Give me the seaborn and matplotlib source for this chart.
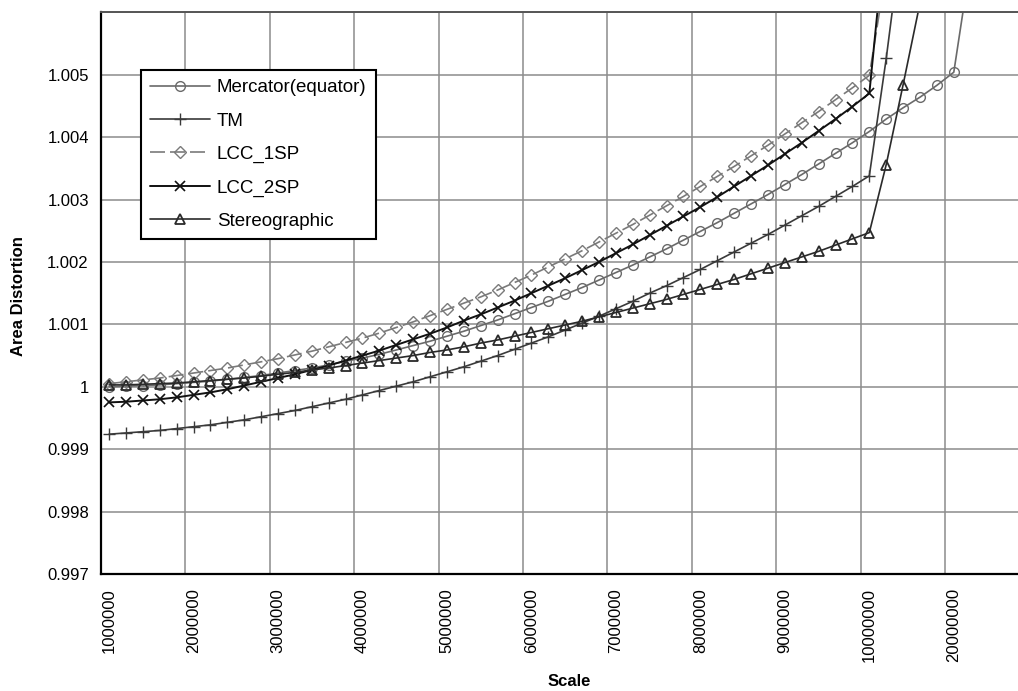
import numpy as np
import pandas as pd
import matplotlib
matplotlib.use("Agg")
import matplotlib.pyplot as plt
import seaborn as sns

nan = np.nan

# Category axis (Excel-style line chart: evenly spaced categories)
scale_values = [1000000, 1200000, 1400000, 1600000, 1800000,
                2000000, 2200000, 2400000, 2600000, 2800000,
                3000000, 3200000, 3400000, 3600000, 3800000,
                4000000, 4200000, 4400000, 4600000, 4800000,
                5000000, 5200000, 5400000, 5600000, 5800000,
                6000000, 6200000, 6400000, 6600000, 6800000,
                7000000, 7200000, 7400000, 7600000, 7800000,
                8000000, 8200000, 8400000, 8600000, 8800000,
                9000000, 9200000, 9400000, 9600000, 9800000,
                10000000, 12000000, 14000000, 16000000, 18000000,
                20000000, 30000000, 40000000, 50000000]

tick_labels = ["1000000", "2000000", "3000000", "4000000", "5000000",
               "6000000", "7000000", "8000000", "9000000", "10000000", "20000000"]

y_ticks = [0.997, 0.998, 0.999, 1.000, 1.001, 1.002, 1.003, 1.004, 1.005, 1.006]
y_tick_labels = ["0.997", "0.998", "0.999", "1", "1.001", "1.002", "1.003",
                 "1.004", "1.005", ""]

mercator = [1.00000, 1.00001, 1.00002, 1.00003, 1.00005, 1.00007, 1.00009, 1.00012, 1.00015, 1.00018,
            1.00022, 1.00026, 1.00030, 1.00035, 1.00041, 1.00046, 1.00052, 1.00059, 1.00066, 1.00073,
            1.00081, 1.00089, 1.00098, 1.00107, 1.00117, 1.00127, 1.00137, 1.00148, 1.00159, 1.00171,
            1.00183, 1.00195, 1.00208, 1.00221, 1.00235, 1.00249, 1.00263, 1.00278, 1.00293, 1.00308,
            1.00324, 1.00340, 1.00357, 1.00374, 1.00391, 1.00409, 1.00429, 1.00447, 1.00464, 1.00483,
            1.00504, 1.00682, nan, nan]

tm = [0.99924, 0.99926, 0.99928, 0.99930, 0.99933, 0.99936, 0.99939, 0.99943, 0.99947, 0.99952,
      0.99957, 0.99962, 0.99968, 0.99974, 0.99980, 0.99987, 0.99994, 1.00001, 1.00008, 1.00016,
      1.00024, 1.00032, 1.00041, 1.00050, 1.00060, 1.00070, 1.00080, 1.00091, 1.00102, 1.00113,
      1.00125, 1.00137, 1.00150, 1.00162, 1.00175, 1.00188, 1.00202, 1.00216, 1.00230, 1.00244,
      1.00259, 1.00274, 1.00289, 1.00305, 1.00321, 1.00338, 1.00526, 1.00737, nan, nan,
      nan, nan, nan, nan]

lcc_1sp = [1.00005, 1.00008, 1.00011, 1.00014, 1.00018, 1.00022, 1.00026, 1.00030, 1.00035, 1.00040,
           1.00045, 1.00051, 1.00057, 1.00064, 1.00071, 1.00078, 1.00086, 1.00095, 1.00104, 1.00114,
           1.00124, 1.00134, 1.00144, 1.00155, 1.00167, 1.00179, 1.00192, 1.00205, 1.00218, 1.00232,
           1.00246, 1.00260, 1.00275, 1.00290, 1.00305, 1.00321, 1.00337, 1.00353, 1.00370, 1.00387,
           1.00405, 1.00423, 1.00441, 1.00460, 1.00479, 1.00499, 1.00668, nan, nan, nan,
           nan, nan, nan, nan]

lcc_2sp = [0.99975, 0.99976, 0.99978, 0.99980, 0.99983, 0.99987, 0.99991, 0.99996, 1.00002, 1.00008,
           1.00014, 1.00020, 1.00027, 1.00034, 1.00042, 1.00050, 1.00058, 1.00067, 1.00076, 1.00085,
           1.00095, 1.00106, 1.00116, 1.00127, 1.00138, 1.00150, 1.00162, 1.00174, 1.00187, 1.00200,
           1.00214, 1.00228, 1.00243, 1.00258, 1.00273, 1.00288, 1.00304, 1.00321, 1.00338, 1.00355,
           1.00373, 1.00391, 1.00410, 1.00429, 1.00449, 1.00470, 1.00743, nan, nan, nan,
           nan, nan, nan, nan]

stereographic = [1.00003, 1.00003, 1.00004, 1.00005, 1.00006, 1.00008, 1.00010, 1.00012, 1.00014, 1.00017,
                 1.00020, 1.00023, 1.00027, 1.00030, 1.00034, 1.00038, 1.00042, 1.00046, 1.00050, 1.00055,
                 1.00059, 1.00064, 1.00070, 1.00075, 1.00081, 1.00087, 1.00093, 1.00099, 1.00105, 1.00112,
                 1.00119, 1.00126, 1.00133, 1.00140, 1.00148, 1.00156, 1.00164, 1.00172, 1.00181, 1.00190,
                 1.00199, 1.00208, 1.00217, 1.00227, 1.00237, 1.00247, 1.00356, 1.00484, 1.00615, nan,
                 nan, nan, nan, nan]

series = [
    ("Mercator(equator)", mercator, "#6a6a6a", dict(marker="o", linestyle="-", lw=1.2, ms=7, mfc="none", mew=1.0)),
    ("TM", tm, "#3a3a3a", dict(marker="+", linestyle="-", lw=1.2, ms=8, mew=1.0)),
    ("LCC_1SP", lcc_1sp, "#7a7a7a", dict(marker="D", linestyle=(0, (9, 3)), lw=1.2, ms=5.8, mfc="none", mew=1.0)),
    ("LCC_2SP", lcc_2sp, "#111111", dict(marker="x", linestyle="-", lw=1.4, ms=6.5, mew=1.2)),
    ("Stereographic", stereographic, "#2a2a2a", dict(marker="^", linestyle="-", lw=1.2, ms=7.5, mfc="none", mew=1.3)),
]

sns.set_style("white")
plt.rcParams["font.family"] = ["Liberation Sans", "DejaVu Sans"]
plt.rcParams["text.color"] = "black"
plt.rcParams["axes.labelcolor"] = "black"
plt.rcParams["xtick.color"] = "black"
plt.rcParams["ytick.color"] = "black"

fig = plt.figure(figsize=(10.18, 6.91), dpi=100)
ax = fig.add_axes([100.6 / 1018, 1 - 574 / 691, (1018 - 100.6) / 1018, (574 - 12.3) / 691])

pos = np.arange(len(scale_values))
for name, vals, col, kw in series:
    df = pd.DataFrame({"pos": pos, "value": vals}).dropna()
    sns.lineplot(data=df, x="pos", y="value", ax=ax, label=name,
                 color=col, markeredgecolor=col, **kw)

ax.set_xlim(-0.5, 53.8)
ax.set_ylim(0.997, 1.006)

# labels sit on category centres, ticks and gridlines between categories
label_pos = [scale_values.index(int(t)) for t in tick_labels]
bound_pos = [p - 0.5 for p in label_pos]
ax.set_xticks(bound_pos)
ax.set_xticklabels([])
ax.set_xticks(label_pos, minor=True)
ax.set_xticklabels(tick_labels, minor=True, rotation=90, fontsize=12)
ax.tick_params(axis="x", which="major", direction="inout", length=7, width=1.2, color="black")
ax.tick_params(axis="x", which="minor", length=0, pad=10)

ax.set_yticks(y_ticks)
ax.set_yticklabels(y_tick_labels, fontsize=12)
ax.tick_params(axis="y", direction="inout", length=7, width=1.2, color="black", pad=5)

ax.grid(True, axis="y", color="#8c8c8c", lw=1.1)
ax.grid(True, axis="x", which="major", color="#8c8c8c", lw=1.1)
ax.set_axisbelow(True)

ax.spines["right"].set_visible(False)
ax.spines["left"].set_color("black")
ax.spines["left"].set_linewidth(1.6)
ax.spines["bottom"].set_color("black")
ax.spines["bottom"].set_linewidth(1.6)
ax.spines["top"].set_color("#555555")
ax.spines["top"].set_linewidth(1.4)

ax.set_ylabel("Area Distortion", fontsize=12, fontweight="bold")
ax.set_xlabel("Scale", fontsize=12, fontweight="bold")
ax.yaxis.set_label_coords(-(100.6 - 19) / 917.4, (574 - 296) / 561.7)
ax.xaxis.set_label_coords((569 - 100.6) / 917.4, -(681 - 574) / 561.7)
ax.xaxis.label.set_va("center")
ax.yaxis.label.set_va("center")

leg = ax.legend(loc="upper left", bbox_to_anchor=(141 / 1018, 1 - 70 / 691),
                bbox_transform=fig.transFigure, borderaxespad=0, fancybox=False,
                framealpha=1, edgecolor="black", fontsize=13.5, handlelength=3.2,
                labelspacing=0.86, borderpad=0.5, handletextpad=0.35)
leg.get_frame().set_linewidth(1.5)

fig.savefig("out.png", dpi=100)
